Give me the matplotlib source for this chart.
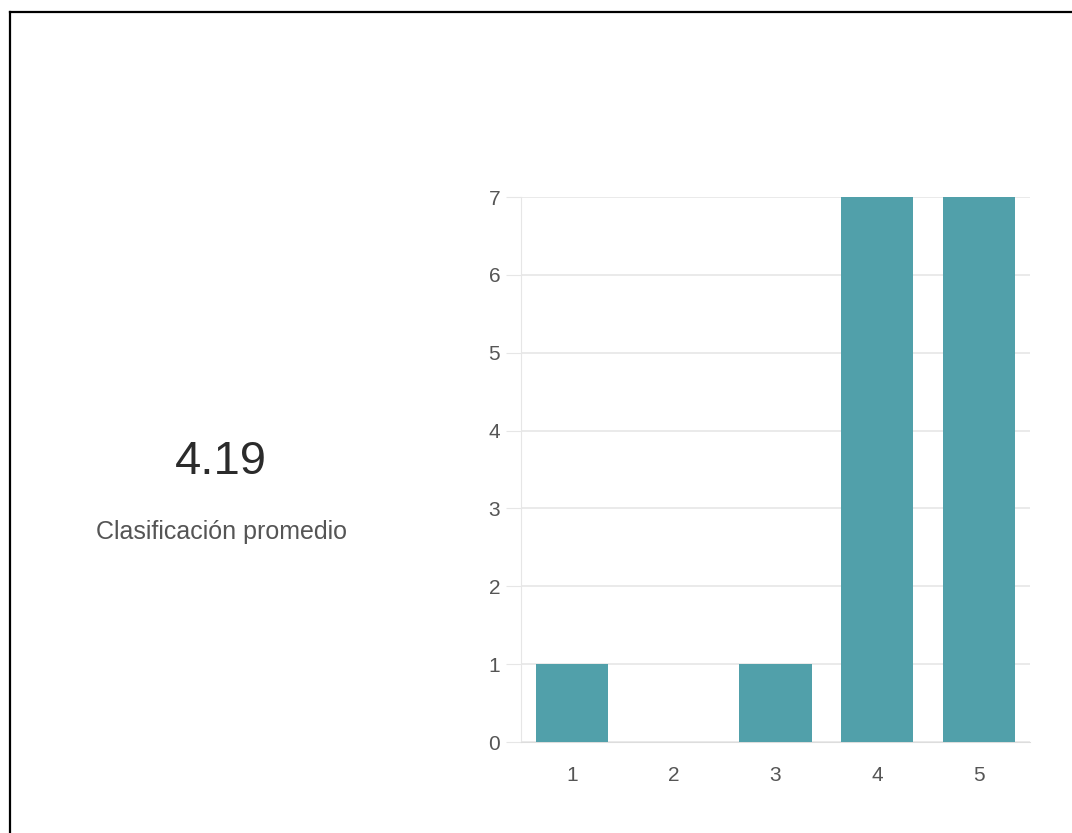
#!/usr/bin/env python3

import matplotlib
matplotlib.use("Agg")
import matplotlib.pyplot as plt
from matplotlib.lines import Line2D

# rating distribution
ratings = ["1", "2", "3", "4", "5"]
counts = [1, 0, 1, 7, 7]
y_ticks = [0, 1, 2, 3, 4, 5, 6, 7]

avg_score = "4.19"
avg_label = "Clasificación promedio"

BAR_COLOR = "#51a0aa"
GRID_COLOR = "#e6e6e6"
TEXT_COLOR = "#555555"

plt.rcParams["font.family"] = ["Liberation Sans", "DejaVu Sans"]


def main():
    fig = plt.figure(figsize=(10.72, 8.33), dpi=100)
    fig.patch.set_facecolor("white")

    # frame lines (top + left only)
    fig.add_artist(Line2D([9.5 / 1072, 1.0], [1 - 11.5 / 833] * 2,
                          transform=fig.transFigure, color="black", lw=1.6))
    fig.add_artist(Line2D([9.5 / 1072] * 2, [0.0, 1 - 11.5 / 833],
                          transform=fig.transFigure, color="black", lw=1.6))

    # average block
    fig.text(221 / 1072, 1 - 462 / 833, avg_score, ha="center", va="center",
             fontsize=34, color="#2b2b2b")
    fig.text(222 / 1072, 1 - 532 / 833, avg_label, ha="center", va="center",
             fontsize=18, color=TEXT_COLOR)

    ax = fig.add_axes([521 / 1072, 1 - 742 / 833, 509 / 1072, 545 / 833])
    x = list(range(len(ratings)))
    ax.bar(x, counts, width=0.71, color=BAR_COLOR, zorder=3)

    ax.set_xlim(-0.5, len(ratings) - 0.5)
    ax.set_ylim(0, max(y_ticks))
    ax.set_xticks(x)
    ax.set_xticklabels(ratings)
    ax.set_yticks(y_ticks)

    ax.grid(True, axis="y", color=GRID_COLOR, lw=1.2, zorder=0)
    ax.set_axisbelow(True)
    for side in ["top", "right"]:
        ax.spines[side].set_visible(False)
    ax.spines["left"].set_color(GRID_COLOR)
    ax.spines["bottom"].set_color("#dddddd")

    ax.tick_params(axis="y", length=11, color=GRID_COLOR, labelsize=15,
                   labelcolor=TEXT_COLOR, pad=4)
    ax.tick_params(axis="x", length=0, labelsize=15, labelcolor=TEXT_COLOR, pad=17)

    fig.savefig("out.png", dpi=100, facecolor="white")


if __name__ == "__main__":
    main()
